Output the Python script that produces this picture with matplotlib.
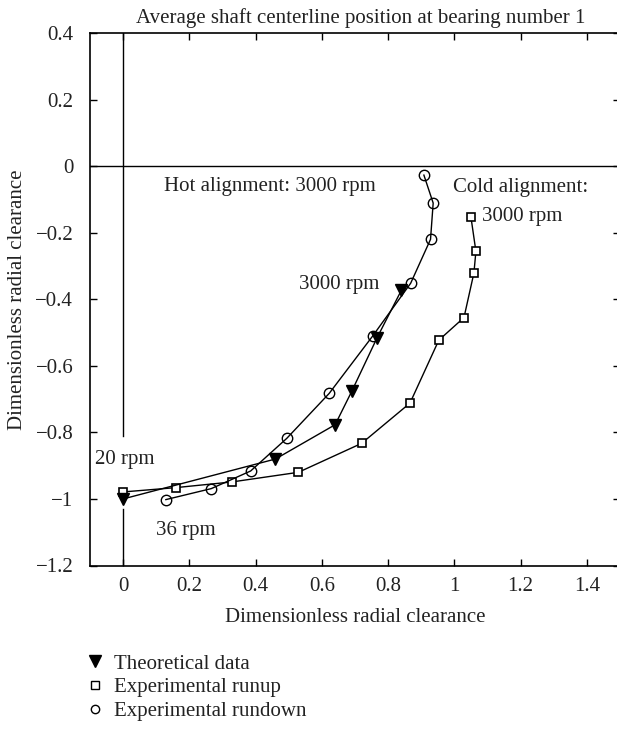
import matplotlib
matplotlib.use("Agg")
import matplotlib.pyplot as plt
from matplotlib.lines import Line2D

# Data (dimensionless radial clearance)
theo_x = [0.00, 0.46, 0.64, 0.69, 0.767, 0.84]
theo_y = [-1.00, -0.88, -0.777, -0.677, -0.515, -0.373]

runup_x = [0.00, 0.159, 0.328, 0.529, 0.72, 0.866, 0.953, 1.029, 1.059, 1.065, 1.050]
runup_y = [-0.979, -0.966, -0.949, -0.92, -0.833, -0.712, -0.523, -0.455, -0.321, -0.256, -0.153]

rundown_x = [0.129, 0.266, 0.385, 0.494, 0.622, 0.753, 0.868, 0.928, 0.936, 0.908]
rundown_y = [-1.002, -0.969, -0.916, -0.818, -0.683, -0.511, -0.352, -0.22, -0.111, -0.027]

xticks = [0, 0.2, 0.4, 0.6, 0.8, 1.0, 1.2, 1.4]
xticklabels = ["0", "0.2", "0.4", "0.6", "0.8", "1", "1.2", "1.4"]
yticks = [-1.2, -1.0, -0.8, -0.6, -0.4, -0.2, 0, 0.2, 0.4]
yticklabels = ["\u22121.2", "\u22121", "\u22120.8", "\u22120.6", "\u22120.4", "\u22120.2", "0", "0.2", "0.4"]

plt.rcParams['font.family'] = ['Liberation Serif', 'DejaVu Serif']
FS = 15
TXT = '#222222'

fig = plt.figure(figsize=(6.17, 7.32), dpi=100)
ax = fig.add_axes([90/617, 166.5/732, 530/617, 532.5/732])
ax.set_xlim(-0.1, 1.5)
ax.set_ylim(-1.2, 0.4)

lw = 1.0
# reference lines
ax.axhline(0, color='black', lw=1.0)
ax.plot([0, 0], [0.4, -0.81], color='black', lw=1.0)
ax.plot([0, 0], [-1.03, -1.2], color='black', lw=1.0)

ax.plot(runup_x, runup_y, color='black', lw=lw, marker='s', ms=6,
        mfc='white', mec='black', mew=1.2, zorder=3)
ax.plot(rundown_x, rundown_y, color='black', lw=lw, marker='o', ms=7.5,
        mfc='none', mec='black', mew=1.0, zorder=3)
ax.plot(theo_x, theo_y, color='black', lw=lw, marker='v', ms=9,
        mfc='black', mec='black', zorder=4)

ax.set_xticks(xticks)
ax.set_xticklabels(xticklabels)
ax.set_yticks(yticks)
ax.set_yticklabels(yticklabels)
ax.tick_params(direction='in', length=5, width=1, top=True, right=True,
               labelsize=FS, labelcolor=TXT)
ax.tick_params(axis='y', pad=12)
ax.tick_params(axis='x', pad=8)
for s in ax.spines.values():
    s.set_linewidth(1.2)

ax.set_xlabel("Dimensionless radial clearance", fontsize=FS, color=TXT, labelpad=9)
ax.set_ylabel("Dimensionless radial clearance", fontsize=FS, color=TXT, labelpad=6)
fig.text(361/617, 1 - 18/732, "Average shaft centerline position at bearing number 1",
         fontsize=FS, color=TXT, ha='center', va='center')

ax.text(0.123, -0.06, "Hot alignment: 3000 rpm", fontsize=FS, color=TXT, va='center', ha='left')
ax.text(0.996, -0.065, "Cold alignment:", fontsize=FS, color=TXT, va='center', ha='left')
ax.text(1.083, -0.152, "3000 rpm", fontsize=FS, color=TXT, va='center', ha='left')
ax.text(0.532, -0.357, "3000 rpm", fontsize=FS, color=TXT, va='center', ha='left')
ax.text(-0.085, -0.88, "20 rpm", fontsize=FS, color=TXT, va='center', ha='left')
ax.text(0.099, -1.094, "36 rpm", fontsize=FS, color=TXT, va='center', ha='left')

handles = [
    Line2D([], [], ls='none', marker='v', ms=8, mfc='black', mec='black'),
    Line2D([], [], ls='none', marker='s', ms=6, mfc='white', mec='black', mew=1.0),
    Line2D([], [], ls='none', marker='o', ms=6, mfc='white', mec='black', mew=1.0),
]
labels = ["Theoretical data", "Experimental runup", "Experimental rundown"]
fig.legend(handles, labels, loc='upper left', bbox_to_anchor=(87/617, 1 - 654/732),
           frameon=False, fontsize=FS, handlelength=0.8, handletextpad=0.5,
           labelspacing=0.2, borderaxespad=0, borderpad=0, labelcolor=TXT)

fig.savefig("out.png", dpi=100)
